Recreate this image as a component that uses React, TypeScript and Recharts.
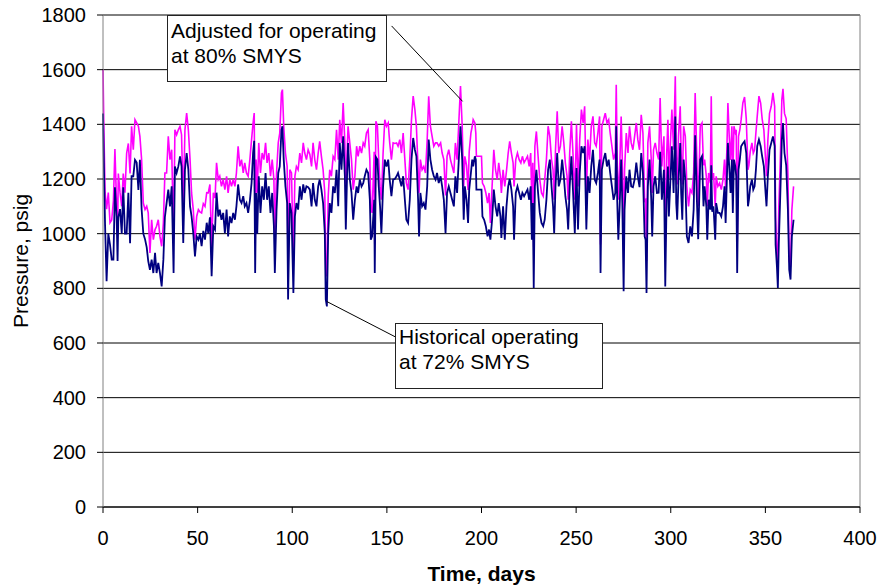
import { LineChart, Line, XAxis, YAxis, CartesianGrid, ReferenceLine } from "recharts";

const FONT = "Arial, 'Liberation Sans', Helvetica, sans-serif";

// let the chart use the whole 880x587 window
if (typeof document !== "undefined") {
  document.body.style.margin = "0";
}

// sample times, days
const days = [
  0, 0.5, 1.1, 1.9, 2.8, 3.7, 4.6, 5.5, 6.3, 7.2,
  7.7, 8.1, 9, 9.9, 10.7, 11.6, 12.5, 13.4, 14.3, 15.1,
  16, 16.9, 17.8, 18.7, 19.5, 20.4, 21.3, 22.2, 23.1, 23.9,
  24.8, 25.7, 26.6, 27.5, 28.3, 29.2, 30.1, 31, 31.9, 32.7,
  33.6, 34.5, 35.4, 36.3, 37.3, 38, 38.9, 39.8, 40.7, 41.5,
  42.4, 43.3, 44.2, 45.1, 46, 46.8, 47.7, 48.6, 49.5, 50.4,
  51.2, 52.1, 53, 53.9, 54.8, 55.6, 56.5, 57.4, 58.3, 59.2,
  60, 60.9, 61.7, 62.6, 63.5, 64.4, 65.3, 66.1, 67, 67.9,
  68.8, 69.7, 70.5, 71.4, 72.3, 73.2, 74.1, 74.9, 75.8, 76.7,
  77.6, 78.5, 79.3, 79.9, 80.4, 80.9, 81.5, 82.3, 83.2, 84.1,
  85, 85.9, 86.7, 87.6, 88.5, 89.4, 90.3, 90.8, 91.7, 92.6,
  93.4, 94.3, 94.8, 95.5, 96.4, 97.3, 97.8, 98.7, 99.6, 100.6,
  101.4, 102.2, 103.1, 104, 104.9, 105.8, 106.6, 107.5, 108.4, 109.3,
  110.2, 111, 111.9, 112.8, 113.7, 114.5, 115.4, 116.3, 117.2, 117.7,
  118.3, 119, 119.8, 120.7, 121.6, 122.5, 123.4, 124.3, 125.1, 126,
  126.9, 127.8, 128.3, 129, 129.5, 130.4, 131.3, 132.2, 133.1, 134,
  134.8, 135.7, 136.6, 137.5, 138.3, 139.2, 140.1, 141, 141.5, 142.2,
  143.3, 143.6, 144.2, 145, 145.7, 146.4, 147.1, 148, 148.9, 149.8,
  150.7, 151.5, 152.4, 153.3, 154.2, 155.1, 155.9, 156.8, 157.7, 158.6,
  159.5, 160.3, 161.2, 162.1, 163, 163.9, 164.8, 165.6, 166.5, 167,
  167.7, 168.6, 169.5, 170.4, 171.3, 172.1, 173, 173.9, 174.8, 175.7,
  176.5, 177.4, 178.4, 179.2, 180.1, 181, 181.8, 182.7, 183.6, 184.5,
  185.4, 186.2, 187.1, 188, 188.9, 189.8, 190.6, 191.2, 192.1, 192.9,
  193.5, 194.4, 195.1, 195.6, 196.5, 197, 197.3, 200, 200.5, 201.4,
  202.3, 203.2, 204, 204.7, 205.6, 206.5, 207.4, 208.3, 209.1, 210,
  210.5, 211.4, 212.3, 213.2, 214.1, 214.9, 215.8, 216.7, 217.2, 218.1,
  219, 219.9, 220.8, 221.6, 222.5, 223.4, 224.3, 225.2, 226, 226.6,
  227.1, 227.6, 228.2, 229, 229.9, 230.8, 231.7, 232.6, 233.4, 234.3,
  235.2, 236.1, 237, 237.8, 238.4, 239.1, 240, 240.8, 241.7, 242.6,
  243.5, 244.3, 245.2, 245.8, 246.6, 247.5, 248.4, 249.3, 250.2, 251,
  251.9, 252.8, 253.7, 254.5, 255.4, 256.2, 257.1, 258, 258.9, 259.8,
  260.6, 261.5, 262.4, 262.9, 263.6, 264.5, 265.4, 266.3, 267.2, 268,
  268.9, 269.8, 270.7, 271.2, 271.7, 272.3, 273, 273.8, 274.4, 275.1,
  275.6, 276.5, 277.4, 278.2, 279.1, 280, 280.9, 281.8, 282.6, 283.5,
  284.4, 285.3, 286.2, 286.7, 287.2, 287.9, 288.8, 289.7, 290.2, 290.9,
  291.8, 292.7, 293.6, 294.4, 295.3, 295.8, 296.4, 297.1, 297.8, 298.5,
  299, 299.9, 300.6, 301.5, 302.4, 302.9, 303.4, 304.1, 305, 305.5,
  306.1, 306.8, 307.7, 308.5, 309.4, 310.3, 311.2, 312.1, 312.9, 313.8,
  314.5, 315.6, 316.5, 317.3, 317.9, 318.8, 319.3, 320, 320.9, 321.4,
  321.9, 322.6, 323.5, 324, 324.9, 325.8, 326.7, 327.6, 328.4, 329,
  329.7, 330.2, 330.9, 331.6, 332.3, 332.8, 333.4, 334.1, 334.6, 335.1,
  335.8, 336.5, 337.2, 338.1, 339, 339.9, 340.8, 341.3, 342, 342.9,
  343.6, 344.3, 345, 345.7, 346.6, 347.5, 348.3, 349.2, 350.1, 350.6,
  351.3, 352.2, 353.1, 354, 354.9, 355.4, 356.1, 356.6, 357.1, 357.8,
  358.7, 359.3, 360.1, 361, 361.9, 362.6, 363.3, 364, 364.9,
];

// historical operating at 72% SMYS, psig
const historical = [
  1440, 1240, 1030, 826, 1000, 960, 905, 905, 1170, 1060,
  900, 1060, 1090, 1000, 1170, 1000, 1000, 1150, 965, 1210,
  1210, 1270, 1260, 1160, 1270, 1090, 1000, 980, 950, 900,
  868, 905, 856, 930, 856, 893, 856, 807, 905, 1060,
  1112, 1161, 1100, 1173, 856, 1246, 1222, 1246, 1283, 1246,
  966, 1234, 1295, 1234, 1100, 1063, 1002, 917, 990, 978,
  1000, 954, 1010, 978, 1040, 1002, 1060, 844, 1027, 1015,
  1150, 1063, 1088, 1051, 1076, 1002, 1088, 990, 1063, 1039,
  1076, 1051, 1100, 1180, 1124, 1112, 1137, 1100, 1112, 1076,
  1120, 1185, 1295, 1340, 856, 1149, 1000, 1210, 1076, 1173,
  1124, 1222, 1124, 1173, 1076, 1149, 1027, 856, 1088, 1222,
  1246, 1380, 1393, 1271, 1173, 1112, 759, 1112, 1076, 783,
  1063, 1112, 1088, 1173, 1124, 1180, 1149, 1173, 1170, 1161,
  1100, 1185, 1124, 1100, 1173, 1198, 1161, 1112, 1002, 759,
  734, 1002, 1112, 1076, 1173, 1149, 1234, 1100, 1332, 1234,
  1356, 1210, 1015, 1222, 1332, 1200, 1150, 1051, 1124, 1173,
  1149, 1198, 1173, 1185, 1210, 1234, 1222, 1124, 978, 990,
  1124, 856, 1280, 1271, 1173, 1100, 1002, 1173, 1271, 1246,
  1271, 1198, 1137, 1198, 1200, 1210, 1222, 1198, 1173, 1210,
  1124, 1051, 1039, 1124, 1271, 1350, 1307, 1283, 1124, 990,
  1149, 1100, 1112, 1088, 1173, 1344, 1271, 1234, 1210, 1198,
  1222, 1185, 1210, 1173, 1124, 1002, 1149, 1173, 1149, 1124,
  1100, 1210, 1149, 1271, 1393, 1271, 1051, 1173, 1124, 1039,
  1161, 1222, 1271, 1246, 1283, 1271, 1161, 1161, 1063, 1051,
  1027, 990, 1015, 978, 1051, 1161, 1100, 1063, 1112, 1063,
  984, 1100, 978, 1100, 1173, 1200, 1161, 1100, 978, 1149,
  1173, 1149, 1124, 1149, 1137, 1149, 1161, 1124, 1173, 978,
  1112, 801, 1173, 1234, 1149, 1076, 1039, 1027, 1051, 1124,
  1234, 1271, 1173, 1100, 1002, 1173, 1295, 1173, 1198, 1271,
  1210, 1137, 1088, 1015, 1173, 1283, 1149, 1002, 1240, 1015,
  1222, 1320, 1295, 1320, 1015, 1210, 1149, 1246, 1307, 1198,
  1185, 1222, 1271, 856, 1234, 1271, 1295, 1246, 1271, 1222,
  1173, 1124, 1149, 1393, 1124, 978, 1100, 1271, 1112, 789,
  1088, 1210, 1149, 1234, 1173, 1170, 1198, 1260, 1210, 1170,
  1295, 1222, 990, 978, 783, 1173, 1271, 1124, 990, 1173,
  1210, 1149, 1150, 1300, 1124, 1173, 1234, 807, 1124, 1246,
  1063, 1210, 1320, 1149, 1429, 1112, 1051, 1198, 1332, 1149,
  1051, 1271, 1198, 990, 966, 1027, 990, 1088, 1360, 1124,
  980, 1271, 1283, 1100, 1173, 1100, 978, 1124, 1088, 1250,
  1080, 1100, 978, 1112, 1076, 1076, 1063, 1100, 1173, 1039,
  1210, 1332, 1246, 1149, 1271, 1076, 1271, 1246, 1210, 856,
  1234, 1271, 1320, 1330, 1338, 1295, 1100, 1124, 1173, 1198,
  1161, 1173, 1234, 1320, 1344, 1320, 1283, 1246, 1149, 1100,
  1210, 1307, 1332, 1356, 1320, 960, 880, 801, 966, 1124,
  1344, 1405, 1295, 1250, 1088, 868, 832, 990, 1051,
];

// adjusted for operating at 80% SMYS, psig
const adjusted = [
  1600, 1370, 1150, 1090, 1150, 1040, 1050, 1120, 1310, 1100,
  1010, 1220, 1150, 1100, 1220, 1150, 1295, 1330, 1220, 1393,
  1307, 1417, 1405, 1393, 1356, 1271, 1112, 1088, 1100, 1076,
  929, 1051, 978, 1015, 1027, 1051, 990, 954, 1039, 1222,
  1222, 1356, 1271, 1307, 980, 1380, 1362, 1380, 1393, 1362,
  1100, 1380, 1441, 1380, 1271, 1149, 1088, 978, 1063, 1088,
  1080, 1076, 1110, 1100, 1150, 1149, 1180, 950, 1150, 1130,
  1259, 1198, 1210, 1173, 1198, 1161, 1210, 1149, 1198, 1173,
  1198, 1173, 1222, 1320, 1246, 1271, 1222, 1259, 1222, 1210,
  1271, 1344, 1405, 1441, 960, 1271, 1150, 1332, 1222, 1295,
  1271, 1332, 1259, 1295, 1210, 1271, 1198, 1000, 1222, 1332,
  1368, 1515, 1527, 1393, 1295, 1246, 860, 1234, 1222, 900,
  1210, 1246, 1234, 1295, 1259, 1332, 1295, 1271, 1307, 1290,
  1246, 1332, 1271, 1234, 1295, 1338, 1283, 1234, 1149, 868,
  844, 1137, 1234, 1210, 1283, 1271, 1380, 1271, 1417, 1332,
  1478, 1332, 1130, 1300, 1393, 1332, 1271, 1161, 1210, 1320,
  1283, 1320, 1295, 1332, 1320, 1368, 1380, 1271, 1100, 1076,
  1300, 960, 1411, 1393, 1271, 1173, 1124, 1295, 1417, 1393,
  1405, 1332, 1271, 1332, 1330, 1332, 1320, 1344, 1295, 1368,
  1271, 1185, 1161, 1271, 1417, 1503, 1454, 1393, 1234, 1149,
  1271, 1234, 1246, 1222, 1344, 1503, 1393, 1356, 1320, 1332,
  1332, 1320, 1332, 1295, 1271, 1140, 1283, 1307, 1271, 1246,
  1222, 1332, 1271, 1405, 1540, 1393, 1173, 1283, 1250, 1160,
  1300, 1368, 1393, 1417, 1405, 1368, 1283, 1283, 1185, 1173,
  1149, 1112, 1149, 1039, 1173, 1307, 1234, 1198, 1259, 1210,
  1149, 1234, 1173, 1230, 1295, 1338, 1295, 1259, 1173, 1271,
  1295, 1271, 1259, 1283, 1260, 1271, 1283, 1246, 1295, 1110,
  1259, 950, 1320, 1374, 1283, 1198, 1149, 1137, 1198, 1271,
  1393, 1356, 1271, 1234, 1124, 1307, 1448, 1295, 1320, 1393,
  1332, 1259, 1210, 1124, 1295, 1411, 1283, 1124, 1400, 1173,
  1344, 1454, 1405, 1466, 1124, 1344, 1271, 1393, 1429, 1332,
  1320, 1368, 1429, 960, 1393, 1417, 1441, 1405, 1417, 1368,
  1320, 1271, 1295, 1545, 1271, 1124, 1234, 1429, 1271, 940,
  1234, 1368, 1295, 1393, 1332, 1307, 1356, 1405, 1344, 1307,
  1435, 1368, 1120, 1124, 900, 1332, 1393, 1271, 1149, 1307,
  1332, 1295, 1271, 1496, 1246, 1307, 1356, 950, 1283, 1417,
  1200, 1344, 1454, 1307, 1576, 1283, 1180, 1356, 1466, 1290,
  1180, 1393, 1356, 1173, 1100, 1161, 1149, 1222, 1515, 1271,
  1100, 1393, 1405, 1250, 1271, 1209, 1100, 1222, 1185, 1503,
  1198, 1222, 1100, 1210, 1173, 1185, 1161, 1198, 1271, 1160,
  1320, 1478, 1356, 1270, 1393, 1200, 1393, 1370, 1380, 950,
  1356, 1380, 1417, 1478, 1500, 1420, 1234, 1250, 1300, 1332,
  1295, 1307, 1370, 1430, 1503, 1478, 1420, 1380, 1271, 1210,
  1340, 1440, 1466, 1515, 1466, 1060, 930, 880, 1100, 1250,
  1490, 1530, 1440, 1420, 1220, 900, 880, 1088, 1173,
];

const xTicks = [0, 50, 100, 150, 200, 250, 300, 350, 400];
const yTicks = [0, 200, 400, 600, 800, 1000, 1200, 1400, 1600, 1800];

// callout leader lines (day, psig)
const adjustedLeader = [{ x: 152.5, y: 1760 }, { x: 190, y: 1484 }];
const historicalLeader = [{ x: 118.2, y: 752 }, { x: 154.3, y: 623 }];

const PressureLabel = ({ viewBox }: any) => {
  const x = 28;
  const y = (viewBox?.y ?? 15) + (viewBox?.height ?? 492) / 2;
  return (
    <text
      x={x}
      y={y}
      transform={`rotate(-90, ${x}, ${y})`}
      textAnchor="middle"
      fill="#000"
      fontSize={21}
      fontFamily={FONT}
    >
      Pressure, psig
    </text>
  );
};

const boxStyle: React.CSSProperties = {
  position: "absolute",
  boxSizing: "border-box",
  background: "#fff",
  border: "1px solid #222",
  fontFamily: FONT,
  fontSize: 21,
  lineHeight: "25px",
  color: "#000",
  paddingLeft: 3,
  whiteSpace: "nowrap",
};

export default function App() {
  const data = days.map((d, i) => ({
    day: d,
    historical: historical[i],
    adjusted: adjusted[i],
  }));

  return (
    <div style={{ position: "relative", width: 880, height: 587 }}>
      <LineChart
        width={880}
        height={587}
        data={data}
        margin={{ top: 15, right: 20, bottom: 4, left: 8 }}
      >
        <CartesianGrid vertical={false} stroke="#000" />
        <XAxis
          dataKey="day"
          type="number"
          domain={[0, 400]}
          ticks={xTicks}
          height={76}
          tickSize={6}
          tickMargin={18}
          axisLine={{ stroke: "#000" }}
          tickLine={{ stroke: "#000" }}
          tick={{ fill: "#000", fontSize: 20, fontFamily: FONT }}
          label={{
            value: "Time, days",
            position: "insideBottom",
            offset: 2,
            fill: "#000",
            fontSize: 21,
            fontWeight: "bold",
            fontFamily: FONT,
          }}
        />
        <YAxis
          type="number"
          domain={[0, 1800]}
          ticks={yTicks}
          width={95}
          tickSize={6}
          tickMargin={11}
          axisLine={{ stroke: "#808080" }}
          tickLine={{ stroke: "#000" }}
          tick={{ fill: "#000", fontSize: 20, fontFamily: FONT }}
          label={<PressureLabel />}
        />
        <ReferenceLine x={400} stroke="#808080" />
        <Line
          type="linear"
          dataKey="adjusted"
          stroke="#FF00FF"
          strokeWidth={1.6}
          dot={false}
          activeDot={false}
          isAnimationActive={false}
        />
        <Line
          type="linear"
          dataKey="historical"
          stroke="#000080"
          strokeWidth={1.8}
          dot={false}
          activeDot={false}
          isAnimationActive={false}
        />
        <ReferenceLine segment={adjustedLeader} stroke="#000" ifOverflow="visible" />
        <ReferenceLine segment={historicalLeader} stroke="#000" ifOverflow="visible" />
      </LineChart>

      <div style={{ ...boxStyle, left: 167, top: 15, width: 220, height: 67, paddingTop: 2 }}>
        Adjusted for operating
        <br />
        at 80% SMYS
      </div>
      <div style={{ ...boxStyle, left: 395, top: 323, width: 208, height: 66, paddingTop: 0 }}>
        Historical operating
        <br />
        at 72% SMYS
      </div>
    </div>
  );
}
